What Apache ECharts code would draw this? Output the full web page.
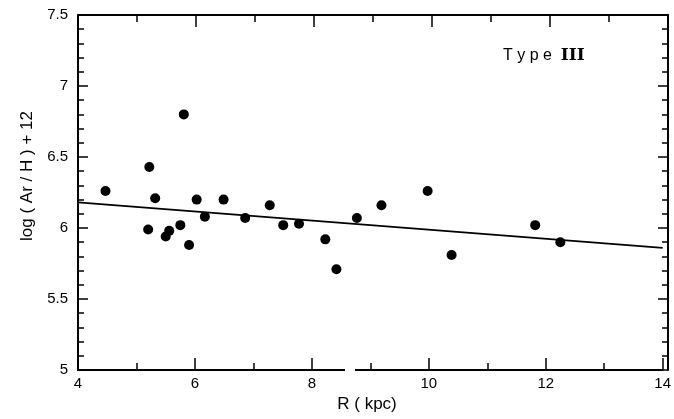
<!DOCTYPE html>
<html><head><meta charset="utf-8">
<script src="https://cdn.jsdelivr.net/npm/echarts@6/dist/echarts.min.js"></script>
<style>html,body{margin:0;padding:0;background:#fff}#c{width:674px;height:419px}</style>
</head><body><div id="c"></div>
<script>
const rKpc = [4.47,5.22,5.20,5.32,5.50,5.56,5.81,5.75,5.90,6.03,6.17,6.49,6.86,7.28,7.51,7.78,8.23,8.42,8.77,9.19,9.98,10.39,11.82,12.25];
const logArH = [6.26,6.43,5.99,6.21,5.94,5.98,6.80,6.02,5.88,6.20,6.08,6.20,6.07,6.16,6.02,6.03,5.92,5.71,6.07,6.16,6.26,5.81,6.02,5.90];
const fitX = [4,14];
const fitY = [6.18,5.86];
const xTitle = 'R ( kpc)';
const yTitle = 'log ( Ar / H ) + 12';

const font = 'Liberation Sans, Arial, sans-serif';
function axLine(){ return {show:true, onZero:false, lineStyle:{color:'#000', width:2}}; }
function xAx(pos, gi, extra){
  return Object.assign({type:'value', gridIndex:gi, position:pos, min:4, max:14, interval:2, splitLine:{show:false}, axisLine:axLine(),
    axisTick:{show:true, inside:true, length:12, lineStyle:{color:'#000', width:1.5}},
    minorTick:{show:true, splitNumber:2, length:7, lineStyle:{color:'#000', width:1.5}}}, extra);
}
function yAx(pos, gi, extra){
  return Object.assign({type:'value', gridIndex:gi, position:pos, min:5, max:7.5, interval:0.5, splitLine:{show:false}, axisLine:axLine(),
    axisTick:{show:true, inside:true, length:10, lineStyle:{color:'#000', width:1.5}},
    minorTick:{show:true, splitNumber:5, length:6, lineStyle:{color:'#000', width:1.5}}}, extra);
}
const chart = echarts.init(document.getElementById('c'));
chart.setOption({
  animation:false,
  grid:[{left:78, right:6, top:15, bottom:49}, {left:78, right:6, top:15, bottom:49}],
  xAxis:[
    xAx('bottom', 0, {axisLabel:{show:true, margin:6, fontFamily:font, fontSize:15, color:'#000'}}),
    xAx('top', 1, {axisLabel:{show:false}})
  ],
  yAxis:[
    yAx('left', 0, {axisLabel:{show:true, margin:10, fontFamily:font, fontSize:15, color:'#000'}}),
    yAx('right', 1, {axisLabel:{show:false}})
  ],
  graphic:[
    {type:'text', x:367, y:404,
     style:{text:xTitle, fontFamily:font, fontSize:17, fill:'#000', align:'center', verticalAlign:'middle'}},
    {type:'text', x:27, y:176, rotation:Math.PI/2,
     style:{text:yTitle, fontFamily:font, fontSize:17, fill:'#000', align:'center', verticalAlign:'middle'}},
    {type:'text', x:503, y:47,
     style:{text:'T y p e  {r|III}', rich:{r:{fontFamily:'DejaVu Serif, serif', fontSize:17, fontWeight:'bold', fill:'#000'}},
       fontFamily:font, fontSize:16, fill:'#000'}},
    {type:'rect', shape:{x:345, y:366, width:10, height:8}, style:{fill:'#fff'}, z:100}
  ],
  series:[
    {type:'scatter', xAxisIndex:0, yAxisIndex:0, data:rKpc.map((x,i)=>[x,logArH[i]]), symbolSize:10, itemStyle:{color:'#000', opacity:1}},
    {type:'line', xAxisIndex:0, yAxisIndex:0, data:fitX.map((x,i)=>[x,fitY[i]]), symbol:'none', lineStyle:{color:'#000', width:1.8}}
  ]
});
</script></body></html>
